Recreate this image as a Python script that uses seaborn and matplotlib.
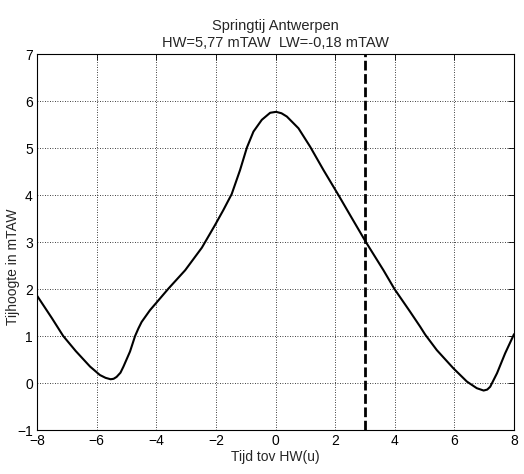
import numpy as np
import pandas as pd
import seaborn as sns
import matplotlib
matplotlib.use('Agg')
import matplotlib.pyplot as plt

# tide curve (hours relative to HW, water level in mTAW)
tijd = [-8, -7.5, -7.12, -6.7, -6.22, -5.89, -5.7, -5.53, -5.43, -5.33, -5.2, -5.1,
        -4.88, -4.71, -4.6, -4.49, -4.21, -3.98, -3.59, -3.03, -2.47, -2.03, -1.75,
        -1.47, -1.19, -0.96, -0.74, -0.46, -0.18, 0.02, 0.2, 0.38, 0.77, 1.16, 1.61,
        2.11, 2.55, 3.03, 3.62, 3.99, 4.5, 4.85, 5.02, 5.41, 5.97, 6.42, 6.75, 6.98,
        7.1, 7.2, 7.43, 7.7, 8.0]
hoogte = [1.86, 1.38, 1.0, 0.68, 0.35, 0.17, 0.11, 0.08, 0.09, 0.13, 0.22, 0.35,
          0.67, 1.0, 1.16, 1.30, 1.55, 1.72, 2.01, 2.40, 2.88, 3.36, 3.68,
          4.02, 4.53, 5.01, 5.35, 5.60, 5.75, 5.77, 5.74, 5.67, 5.42, 5.03, 4.53,
          4.0, 3.52, 3.0, 2.40, 2.0, 1.53, 1.20, 1.03, 0.70, 0.31, 0.03, -0.11, -0.16,
          -0.14, -0.08, 0.21, 0.63, 1.04]
x_grens = 3
titel = "Springtij Antwerpen\nHW=5,77 mTAW  LW=-0,18 mTAW"

df = pd.DataFrame({'tijd': tijd, 'hoogte': hoogte})

sns.set_style('white')
plt.rcParams['font.family'] = ['Liberation Sans', 'DejaVu Sans']

fig = plt.figure(figsize=(5.24, 4.74), dpi=100)
ax = fig.add_axes([0.0706, 0.0928, 0.9104, 0.7932])
sns.lineplot(data=df, x='tijd', y='hoogte', ax=ax, color='black', linewidth=1.5, sort=False)
ax.axvline(x_grens, color='black', linewidth=2.0, linestyle=(0, (3.5, 1.3)))

ax.set_xlim(-8, 8)
ax.set_ylim(-1, 7)
ax.set_xticks(np.arange(-8, 9, 2))
ax.set_yticks(np.arange(-1, 8, 1))
ax.grid(True, color='black', linestyle=(0, (1, 2)), linewidth=0.6)
ax.tick_params(direction='in', length=4, width=0.6, labelsize=10, top=True, right=True,
               colors='black', pad=3)
for s in ax.spines.values():
    s.set_color('black')
    s.set_linewidth(0.8)
ax.set_xlabel('Tijd tov HW(u)', fontsize=10, labelpad=1.5)
ax.set_ylabel('Tijhoogte in mTAW', fontsize=10)
ax.yaxis.set_label_coords(-0.036, 0.434)
ax.set_title(titel, fontsize=10.5, pad=5, linespacing=1.25)

fig.savefig('out.png', dpi=100)
